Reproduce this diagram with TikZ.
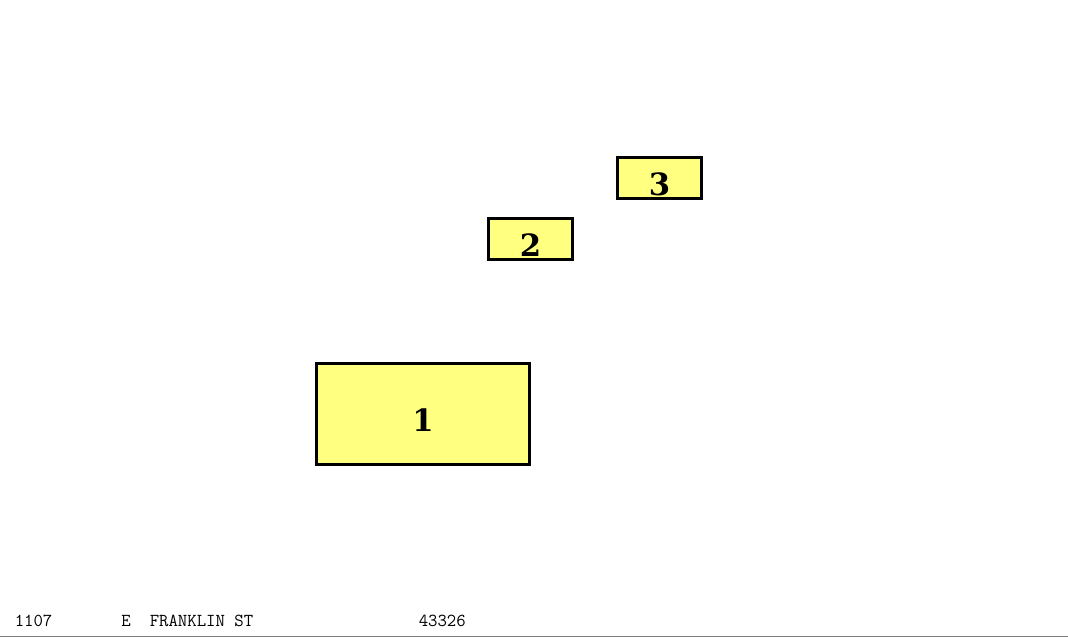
\documentclass[tikz,border=0pt]{standalone}
\usepackage{fontspec}
\setmainfont{DejaVu Serif}
\usetikzlibrary{positioning}
\definecolor{lotyellow}{HTML}{FFFF80}
\definecolor{rulegray}{HTML}{808080}

\begin{document}
\begin{tikzpicture}[x=0.75pt,y=0.75pt,
  lot/.style={draw=black,line width=2.25pt,fill=lotyellow,inner sep=0pt,
    text height=26pt,text depth=0pt,font=\bfseries\fontsize{23}{23}\selectfont},
  addr/.style={anchor=base west,inner sep=0pt,font=\ttfamily\fontsize{13.7}{13.7}\selectfont}]
\useasboundingbox (0,0) rectangle (1068,637);
% lots
\node[lot,minimum width=159.75pt,minimum height=75.75pt] (lot1) at (423,223) {1};
\node[lot,minimum width=63pt,minimum height=30.75pt] (lot2) at (530.5,398) {2};
\node[lot,minimum width=63pt,minimum height=30.75pt] (lot3) at (659.5,459) {3};
% address line
\node[addr] (num) at (14.5,10.5) {1107};
\node[addr] (dir) at (121,10.5) {E};
\node[addr] (street) at (149.5,10.5) {FRANKLIN ST};
\node[addr] (zip) at (418.5,10.5) {43326};
\draw[rulegray,line width=0.75pt] (0,0.5)--(1068,0.5);
\end{tikzpicture}
\end{document}
